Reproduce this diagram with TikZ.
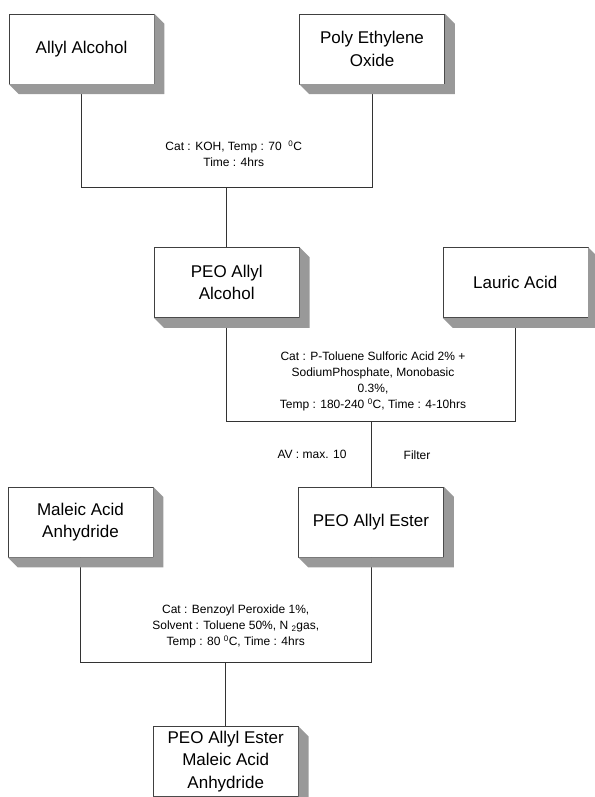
\documentclass[tikz,border=0pt]{standalone}
\usepackage{fontspec}
\setmainfont{Liberation Sans}
\usetikzlibrary{positioning,calc}

\begin{document}
\begin{tikzpicture}[
  x=1pt, y=1pt,
  box/.style={draw=black!75, fill=white, line width=0.5pt, align=center,
    minimum width=145pt, minimum height=70pt, inner sep=2pt,
    font=\fontsize{17}{22.5}\selectfont},
  note/.style={align=center, inner sep=0pt, font=\fontsize{12}{16}\selectfont},
  link/.style={draw=black!80, line width=0.6pt},
  shade/.style={fill=black!40}
]
\useasboundingbox (0,0) rectangle (594,-797);
% step 1
\node[box] (allyl) at (81.5,-49) {Allyl Alcohol};
\node[box, right=145pt of allyl] (peo) {Poly Ethylene\\Oxide};
\coordinate (mix1) at ($(allyl.south)!.5!(peo.south)+(0,-103)$);
\node[box, below=60pt of mix1] (peoaa) {PEO Allyl\\Alcohol};
% step 2
\node[box, right=143pt of peoaa] (lauric) {Lauric Acid};
\coordinate (mix2) at ($(peoaa.south)!.5!(lauric.south)+(0,-104)$);
\node[box, below=65pt of mix2] (ester) {PEO Allyl Ester};
% step 3
\node[box, left=145pt of ester] (maleic) {Maleic Acid\\Anhydride};
\coordinate (mix3) at ($(maleic.south)!.5!(ester.south)+(0,-105)$);
\node[box, below=64pt of mix3] (final) {PEO Allyl Ester\\Maleic Acid\\Anhydride};
% conditions
\node[note] (cond1) at ($(mix1)+(7,33.5)$) {Cat : KOH, Temp : 70 \ \textsuperscript{0}C\\Time : 4hrs};
\node[note] (cond2) at ($(mix2)+(2,40)$) {Cat : P-Toluene Sulforic Acid 2\% +\\SodiumPhosphate, Monobasic\\0.3\%,\\Temp : 180-240 \textsuperscript{0}C, Time : 4-10hrs};
\node[note] (av) at ($(mix2)+(-59,-33)$) {AV : max. 10};
\node[note] (filter) at ($(mix2)+(46,-33)$) {Filter};
\node[note] (cond3) at ($(mix3)+(10,36)$) {Cat : Benzoyl Peroxide 1\%,\\Solvent : Toluene 50\%, N \textsubscript{2}gas,\\Temp : 80 \textsuperscript{0}C, Time : 4hrs};
% connectors
\draw[link] (allyl.south) |- (mix1) -| (peo.south);
\draw[link] (mix1) -- (peoaa.north);
\draw[link] (peoaa.south) |- (mix2) -| (lauric.south);
\draw[link] (mix2) -- (ester.north);
\draw[link] (maleic.south) |- (mix3) -| (ester.south);
\draw[link] (mix3) -- (final.north);
% box shadows
\foreach \b in {allyl,peo,peoaa,lauric,maleic,ester,final}
  \fill[shade] (\b.north east) -- ++(10,-10) |- ([shift={(10,-10)}]\b.south west)
    -- (\b.south west) -- (\b.south east) -- cycle;
\end{tikzpicture}
\end{document}
